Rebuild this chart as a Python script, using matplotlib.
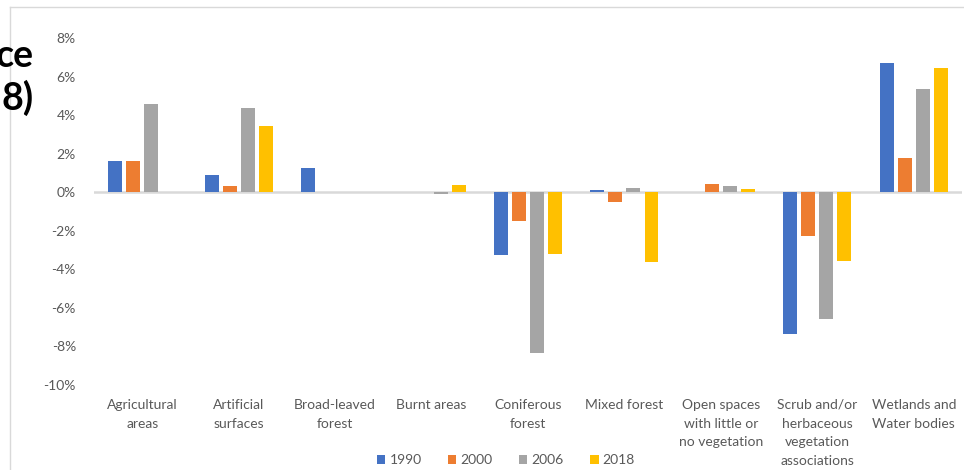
import matplotlib
matplotlib.use("Agg")
import matplotlib.pyplot as plt
from matplotlib.lines import Line2D
from matplotlib.patches import Patch
import numpy as np

plt.rcParams['font.family'] = ['Lato', 'DejaVu Sans']

categories = [
    "Agricultural\nareas", "Artificial\nsurfaces", "Broad-leaved\nforest",
    "Burnt areas", "Coniferous\nforest", "Mixed forest",
    "Open spaces\nwith little or\nno vegetation",
    "Scrub and/or\nherbaceous\nvegetation\nassociations",
    "Wetlands and\nWater bodies",
]
years = ["1990", "2000", "2006", "2018"]
v1990 = [1.60, 0.88, 1.24, 0.00, -3.24, 0.09, 0.00, -7.36, 6.70]
v2000 = [1.60, 0.32, 0.00, 0.00, -1.50, -0.50, 0.45, -2.28, 1.76]
v2006 = [4.56, 4.35, 0.00, -0.10, -8.32, 0.22, 0.33, -6.58, 5.35]
v2018 = [0.00, 3.44, 0.00, 0.35, -3.20, -3.62, 0.15, -3.58, 6.43]
colors = ["#4472C4", "#ED7D31", "#A5A5A5", "#FFC000"]
yticks = [-10, -8, -6, -4, -2, 0, 2, 4, 6, 8]

fig = plt.figure(figsize=(9.64, 4.70), dpi=100)
W, H = 964, 470
ax = fig.add_axes([94 / W, (H - 385) / H, (962 - 94) / W, (385 - 38) / H])

x = np.arange(len(categories))
step = 0.187
width = 0.145
for i, (vals, c) in enumerate(zip([v1990, v2000, v2006, v2018], colors)):
    ax.bar(x + (i - 1.5) * step, vals, width=width, color=c,
           edgecolor="none", linewidth=0, zorder=3)

ax.axhline(0, color="#d9d9d9", lw=1.8, zorder=2)
ax.set_xlim(-0.5, len(categories) - 0.5)
ax.set_ylim(-10, 8)
ax.set_yticks(yticks)
ax.set_yticklabels([f"{t}%" for t in yticks])
ax.set_xticks(x)
ax.set_xticklabels(categories, linespacing=1.68)
ax.tick_params(axis="both", length=0, labelcolor="#595959", labelsize=10)
ax.tick_params(axis="y", pad=13)
ax.tick_params(axis="x", pad=10)
for s in ax.spines.values():
    s.set_visible(False)

handles = [Patch(facecolor=c, edgecolor="none") for c in colors]
fig.legend(handles, years, loc="center", bbox_to_anchor=(506 / W, (H - 460) / H),
           ncol=4, frameon=False, fontsize=10, labelcolor="#595959",
           handlelength=0.6, handleheight=0.6, handletextpad=0.3,
           columnspacing=1.9)

# chart frame
fig.add_artist(Line2D([10 / W, 10 / W], [0, (H - 7) / H], color="#d9d9d9", lw=1.0,
                      transform=fig.transFigure))
fig.add_artist(Line2D([10 / W, 1], [(H - 7) / H, (H - 7) / H], color="#d9d9d9", lw=1.0,
                      transform=fig.transFigure))

# title
fig.text(34 / W, (H - 67) / H, "ce", ha="right", va="baseline",
         fontsize=27, fontweight="bold", color="black")
fig.text(34 / W, (H - 110) / H, "8)", ha="right", va="baseline",
         fontsize=27, fontweight="bold", color="black")

fig.savefig("out.png", dpi=100)
